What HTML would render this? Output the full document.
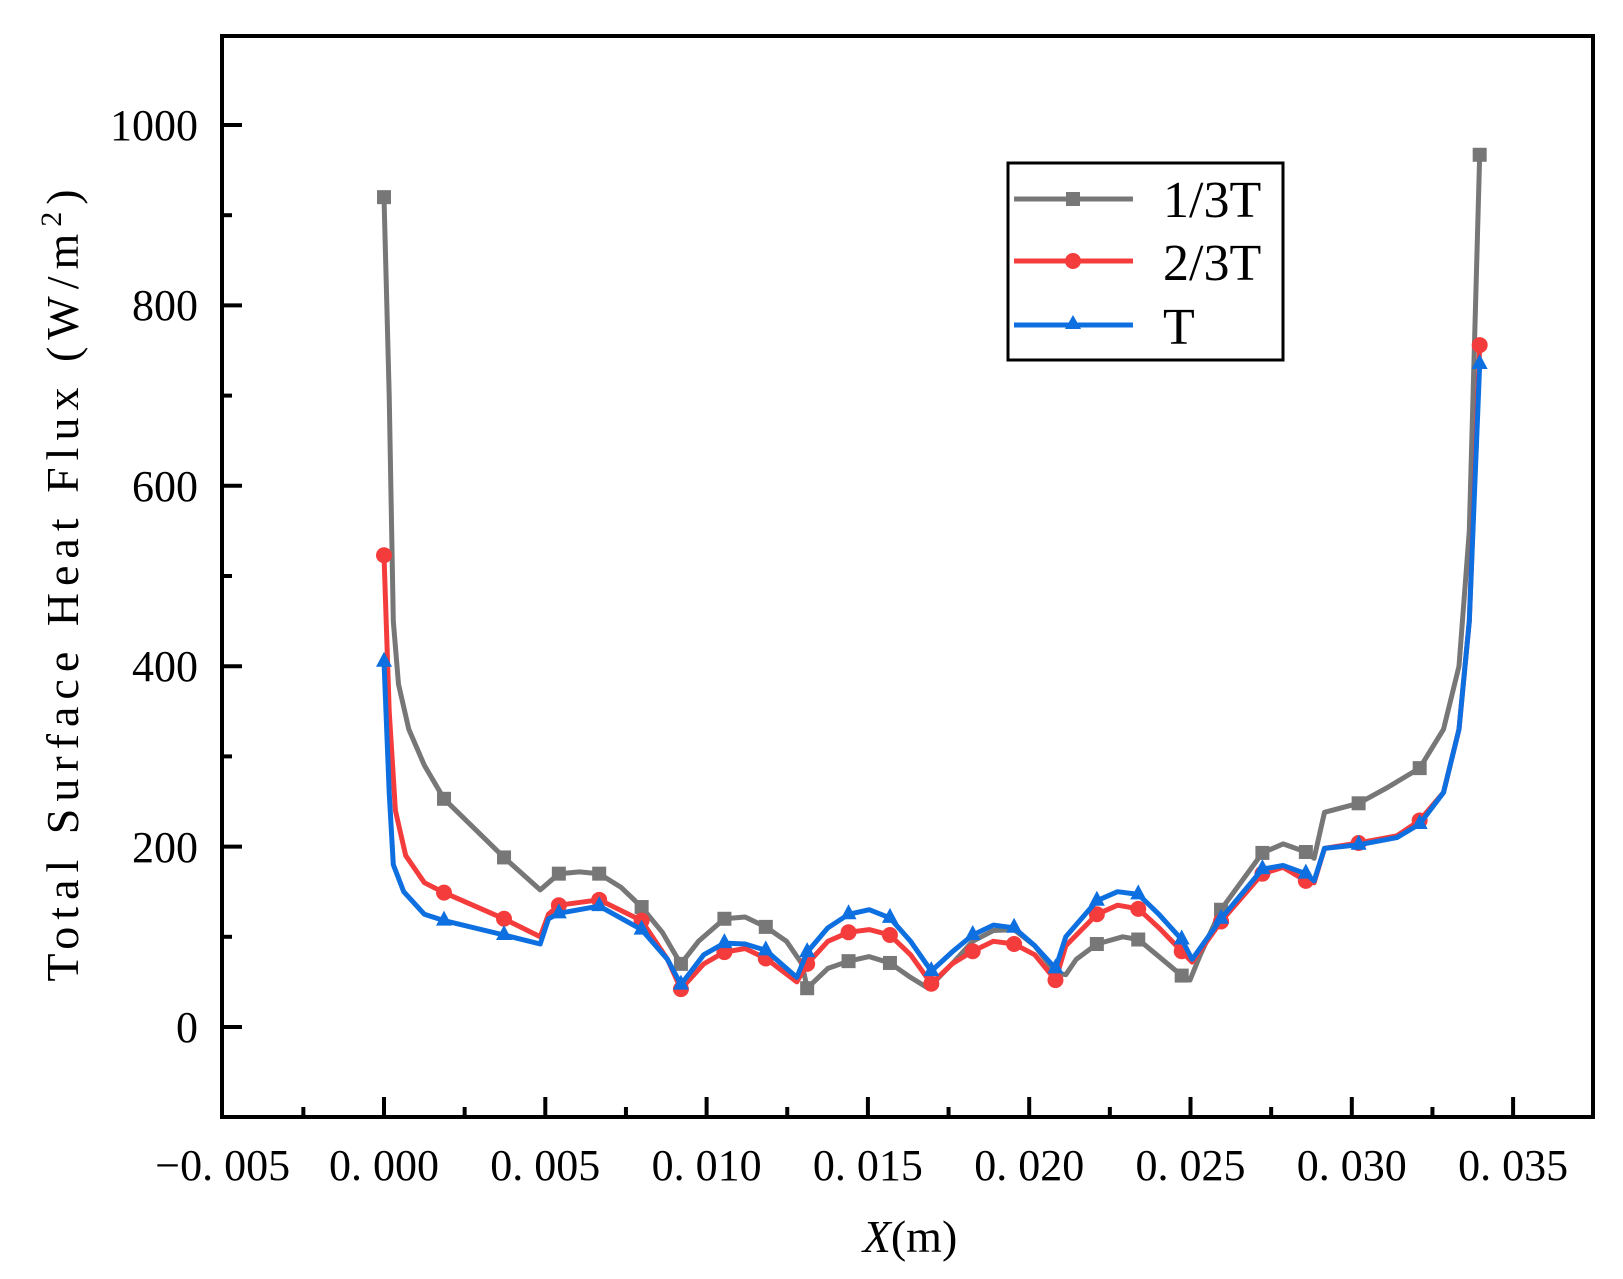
<!DOCTYPE html>
<html><head><meta charset="utf-8"><style>
html,body{margin:0;padding:0;background:#fff;}
svg{display:block;font-family:"Liberation Serif",serif;}
</style></head><body>
<svg id="s" width="1623" height="1279" viewBox="0 0 1623 1279" xmlns="http://www.w3.org/2000/svg">
<rect width="1623" height="1279" fill="#fff"/>
<g id="series"></g>
<rect x="222" y="36" width="1371" height="1081" fill="none" stroke="#000" stroke-width="4"/>
<g id="ticks" stroke="#000" stroke-width="4"></g>
<g font-size="44" fill="#000" text-anchor="end">
<text x="198" y="1042">0</text>
<text x="198" y="862">200</text>
<text x="198" y="681">400</text>
<text x="198" y="501">600</text>
<text x="198" y="320">800</text>
<text x="198" y="140">1000</text>
</g>
<g font-size="44" fill="#000" text-anchor="middle" id="xl"></g>
<text x="0" y="0" font-size="46" text-anchor="middle" letter-spacing="7" transform="translate(78,582) rotate(-90)">Total Surface Heat Flux (W/m<tspan font-size="30" dy="-17">2</tspan><tspan dy="17">)</tspan></text>
<text x="910" y="1252" font-size="46" text-anchor="middle"><tspan font-style="italic">X</tspan>(m)</text>
<rect x="1008" y="163" width="275" height="197" fill="#fff" stroke="#000" stroke-width="3"/>
<g stroke-width="5">
<line x1="1014" y1="199" x2="1133" y2="199" stroke="#777"/>
<line x1="1014" y1="261" x2="1133" y2="261" stroke="#f53c3c"/>
<line x1="1014" y1="325" x2="1133" y2="325" stroke="#0d6fe0"/>
</g>
<rect x="1066" y="192" width="14" height="14" fill="#777"/>
<circle cx="1073" cy="261" r="8" fill="#f53c3c"/>
<polygon points="1073,315 1081,329 1065,329" fill="#0d6fe0"/>
<g font-size="52" fill="#000">
<text x="1163" y="217">1/3T</text>
<text x="1163" y="280">2/3T</text>
<text x="1163" y="344">T</text>
</g>
</svg>
<script>
var NS="http://www.w3.org/2000/svg";
function el(t,a,p){var e=document.createElementNS(NS,t);for(var k in a)e.setAttribute(k,a[k]);p.appendChild(e);return e;}
var tk=document.getElementById('ticks');
for(var v=-100;v<=1100;v+=100){var y=1027-v*0.902;if(y<38||y>1115)continue;var L=(v%200==0)?20:10;el('line',{x1:222,y1:y,x2:222+L,y2:y},tk);}
var xl=document.getElementById('xl');
var labs=["\u22120. 005","0. 000","0. 005","0. 010","0. 015","0. 020","0. 025","0. 030","0. 035"];
for(var i=-2;i<=14;i++){var x=384+i*80.65;
 if(i%2==0){var t=el('text',{x:x,y:1180},xl);t.textContent=labs[i/2+1];}
 if(x<226||x>1589)continue;var L=(i%2==0)?20:10;el('line',{x1:x,y1:1117,x2:x,y2:1117-L},tk);}
function X(p){return 384+(p-371)/155.9*161.3;}
function Y(v){return 1027-v*0.902;}
var G=[[371,920,1],[376,700],[380,450],[385,380],[395,330],[410,290],[429,253,1],[487,188,1],[522,152],[530,160],[540,170,1],[560,172],[579,170,1],[600,155],[620,133,1],[640,105],[650,85],[658,70,1],[675,95],[700,120,1],[720,122],[740,111,1],[760,95],[775,70],[780,43,1],[800,65],[820,73,1],[840,78],[860,71,1],[880,55],[897,43],[920,70],[940,95],[960,107],[980,108],[1000,90],[1020,60],[1030,58],[1040,75],[1060,92,1],[1085,100],[1100,97,1],[1120,78],[1142,57,1],[1150,52],[1160,80],[1180,130,1],[1220,193,1],[1240,203],[1262,194,1],[1270,187],[1280,238],[1313,248,1],[1340,265],[1372,287,1],[1395,330],[1410,400],[1420,550],[1430,967,1]];
var R=[[371,523,1],[376,350],[382,240],[392,190],[410,160],[429,149,1],[487,120,1],[522,100],[530,125],[540,135,1],[579,141,1],[620,118,1],[645,75],[658,42,1],[680,70],[700,83,1],[720,87],[740,76,1],[770,50],[780,70,1],[800,95],[820,105,1],[840,108],[860,102,1],[880,80],[900,48,1],[920,70],[940,84,1],[960,95],[980,92,1],[1000,80],[1020,52,1],[1030,90],[1060,125,1],[1080,135],[1100,131,1],[1120,110],[1142,84,1],[1152,72],[1180,117,1],[1220,170,1],[1240,177],[1262,162,1],[1270,160],[1280,198],[1313,204,1],[1350,212],[1372,229,1],[1395,260],[1410,330],[1420,450],[1430,756,1]];
var B=[[371,405,1],[376,260],[380,180],[390,150],[410,125],[429,118,1],[487,102,1],[522,92],[530,120],[540,126,1],[579,134,1],[620,108,1],[645,75],[658,47,1],[680,80],[700,93,1],[720,92],[740,85,1],[770,55],[780,83,1],[800,110],[820,125,1],[840,130],[860,121,1],[880,95],[900,62,1],[920,83],[940,102,1],[960,113],[980,110,1],[1000,90],[1020,65,1],[1030,100],[1060,140,1],[1080,150],[1100,147,1],[1120,125],[1142,97,1],[1152,75],[1180,120,1],[1220,175,1],[1240,179],[1262,170,1],[1270,162],[1280,198],[1313,202,1],[1350,210],[1372,225,1],[1395,260],[1410,330],[1420,450],[1430,735,1]];
var sg=document.getElementById('series');
function draw(d,c,m){var pts=d.map(function(p){return X(p[0]).toFixed(1)+","+Y(p[1]).toFixed(1);}).join(" ");
 el('polyline',{points:pts,fill:'none',stroke:c,'stroke-width':5,'stroke-linejoin':'round','stroke-linecap':'round'},sg);
 d.forEach(function(p){if(!p[2])return;var x=X(p[0]),y=Y(p[1]);
  if(m=='s')el('rect',{x:x-7,y:y-7,width:14,height:14,fill:c},sg);
  else if(m=='c')el('circle',{cx:x,cy:y,r:8,fill:c},sg);
  else el('polygon',{points:x+","+(y-10)+" "+(x+8)+","+(y+5)+" "+(x-8)+","+(y+5),fill:c},sg);});}
draw(G,'#777','s');draw(R,'#f53c3c','c');draw(B,'#0d6fe0','t');
</script>
</body></html>
